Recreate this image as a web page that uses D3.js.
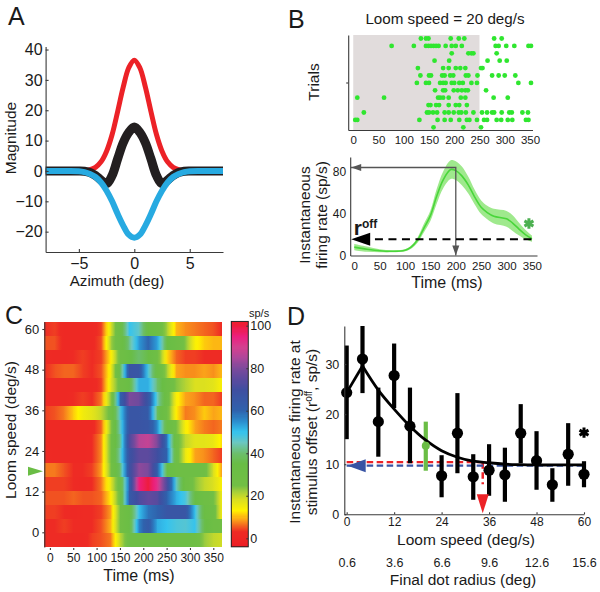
<!DOCTYPE html>
<html><head><meta charset="utf-8">
<script src="https://cdnjs.cloudflare.com/ajax/libs/d3/7.8.5/d3.min.js"></script>
<style>
html,body{margin:0;padding:0;background:#fff}
svg{display:block}
text{font-family:"Liberation Sans",Arial,sans-serif;fill:#1a1a1a}
.axis path,.axis line{stroke:#3a3a3a;stroke-width:1.1;fill:none}
</style></head><body>
<svg id="c" width="600" height="592"></svg>
<script>
// ---------- Panel A ----------
const azimuth   = [-8,-6,-5,-4.5,-4,-3.5,-3,-2.5,-2,-1.5,-1,-0.5,0,0.5,1,1.5,2,2.5,3,3.5,4,4.5,5,6,8];
const redCurve  = [0,0,0,0.1,0.4,1.2,3,6.5,12,19.6,27.6,34,36.5,34,27.6,19.6,12,6.5,3,1.2,0.4,0.1,0,0,0];
const blueCurve = [0,0,-0.1,-0.4,-1,-2,-3.8,-6.5,-10,-14.2,-18,-21,-22,-21,-18,-14.2,-10,-6.5,-3.8,-2,-1,-0.4,-0.1,0,0];
const blackCurve= [0,0,0,-0.1,-0.5,-1.5,-3,-4.2,-1.5,4,9.3,12.7,14.5,12.7,9.3,4,-1.5,-4.2,-3,-1.5,-0.5,-0.1,0,0,0];
const azTicks = [-5,0,5], magTicks = [-20,-10,0,10,20,30,40];

// ---------- Panel B raster ----------
const rasterTrials = [
 [134,144,149,193,209,220,279,294],
 [76,120,144,149,154,159,164,169,183,195,203,215,282,288,303,319,347,352],
 [195,228,234,238,284],
 [161,190,266,290,304],
 [128,178,189,203,212,222,253,256],
 [133,150,154,176,181,192,198,223,228,246,275,288,300,321],
 [126,144,150,172,178,183,195,200,210,217,234,245,327,352],
 [162,178,182,199,207,215,222,227,263],
 [8,61,168,172,178,189,213,222,278,306],
 [149,153,164,170,189,203,210,225],
 [21,146,150,158,166,181,189,199,209,214,223,238,255,265,275,279,294,309,314,335,346],
 [4,8,131,167,181,193,210,225,230,245,259,265,284,293,306,315,342,347],
 [159,218,253]
];
const timeTicks = [0,50,100,150,200,250,300,350];
const stimulusEnd = 250;

// ---------- Panel B rate ----------
const rateTime = [0,25,50,75,100,112,125,137,150,162,175,190,200,212,225,237,250,262,275,300,312,325,337,350];
const rateMean = [8,6,4.5,4,5,8,15,26,38,56,72,82,81,76,67,56,46,41,37.5,35,31,25,20,16];
const rateErr  = [3,2.5,1.5,1,1,1.5,2.5,4,5,7,8,9,9,9,8,7,6.5,6.5,7,7.5,7.5,6,4.5,3];
const rateTicks = [0,40,80];
const roffValue = 15.6, peakRate = 84, peakTime = 200;

// ---------- Panel C heat map ----------
const heatTimes = [-12,10,30,50,70,90,110,130,150,170,190,210,230,250,270,290,310,330,350,368];
const heatSpeeds = [60,56,52,48,44,40,36,32,28,24,20,16,12,8,4,0];
const heatRows = [
 [3,4,2,2,2,2,4,18,32,50,46,33,30,22,10,8,7,6,5,3],
 [5,5,2,2,2,2,5,22,30,42,54,60,53,35,30,24,14,11,10,10],
 [3,2,2,3,4,3,4,13,28,34,40,35,28,12,6,4,4,3,3,3],
 [3,5,6,6,4,3,5,15,36,67,66,48,32,22,9,8,8,9,8,10],
 [2,2,2,2,2,2,4,17,28,34,52,52,40,30,24,21,18,18,17,14],
 [2,2,2,3,4,3,7,24,60,80,78,66,45,30,14,9,8,6,6,4],
 [4,5,7,11,15,17,20,27,48,66,66,64,38,28,13,7,8,11,9,10],
 [2,2,2,2,2,2,6,24,46,67,67,66,55,32,26,14,9,7,6,7],
 [2,2,2,2,2,3,8,27,42,72,86,88,80,58,28,20,17,17,16,12],
 [3,2,2,2,2,3,8,27,45,68,75,75,70,60,30,16,9,8,6,4],
 [7,7,5,3,3,4,9,25,40,68,82,80,62,35,30,30,30,28,18,9],
 [4,4,4,3,2,3,7,17,30,62,95,100,92,72,46,30,24,20,18,14],
 [5,5,5,6,5,5,6,13,28,64,72,76,74,60,52,48,35,30,26,16],
 [4,4,3,2,3,3,4,9,26,33,50,58,60,66,66,66,50,33,28,16],
 [3,3,4,3,3,3,5,10,26,33,56,64,52,50,48,47,50,36,30,28],
 [3,3,3,2,2,4,5,7,20,29,30,30,30,30,30,30,28,23,20,19]
];
const speedTicksC = [0,12,24,36,48,60];
const heatTimeTicks = [0,50,100,150,200,250,300,350];
const cbTicks = [0,20,40,60,80,100];
const cmapValues = [-4,3,6,9,13,18,22,25,35,40,45,50,55,60,70,75,80,85,90,95,100,102];
const cmapColors = ["#ed1c24","#ee2b24","#f3651f","#fba319","#fff200","#dce01f","#a6cf3a","#72bf45","#69bd45","#6cbe6b","#6cc7c0","#35c3ee","#2b8fcf","#2f62ad","#3f4ea0","#5d4a9e","#7b4a9c","#ae479a","#d4408f","#ec1f7f","#ed1c3c","#ee1f2c"];
const markedSpeed = 18;

// ---------- Panel D ----------
const speeds  = [0,4,8,12,16,20,24,28,32,36,40,44,48,52,56,60];
const offRate = [24.3,31,18.5,27.7,17.6,13.7,7.7,16.2,7.5,8.8,7.9,16.2,10.7,5.9,12,8];
const offHi   = [33.7,37.6,25.3,34.1,25.3,18.5,11.8,24.2,12,14,13.3,22,16.6,9.2,18.2,10.6];
const offLo   = [15,24.2,11.5,21.2,10.2,8.7,3.4,8.2,2.9,3.7,2.5,10.2,4.9,2.5,5.7,5.4];
const riseSpeed = [0,4], riseRate = [24.3,29.6];
const fitSpeed = [4,8,12,16,20,24,28,32,36,40,44,48,52,56,60];
const fitRate  = [29.6,24.8,21,17.6,14.8,12.7,11.4,10.6,10.3,10,9.9,9.85,9.85,9.85,9.85];
const speedTicksD = [0,12,24,36,48,60];
const radiusLabels = ["0.6","3.6","6.6","9.6","12.6","15.6"];
const rateTicksD = [0,10,20,30];
const redLevel = 10.4, blueLevel = 9.7, redSpeed = 34.4, greenIndex = 5;

const RED="#ec2227", BLUE="#27aae1", GREEN="#6abd45", LIME="#2fe62f";
const svg = d3.select("#c");
const label=(x,y,s,size,opts={})=>{
  const t=svg.append("text").attr("x",x).attr("y",y).attr("font-size",size).text(s);
  if(opts.anchor) t.attr("text-anchor",opts.anchor);
  if(opts.rot) t.attr("transform",`rotate(-90 ${x} ${y})`);
  return t;
};
const tri=(g,pts,fill)=>g.append("path").attr("d",d3.line()(pts)+"Z").attr("fill",fill);
const styleAxis=(g,fs)=>{g.attr("class","axis");g.selectAll("text").attr("font-size",fs).attr("fill","#1a1a1a").style("font-family",'"Liberation Sans",Arial,sans-serif');return g;};

// ---- A ----
label(8,25,"A",25);
{
  const x=d3.scaleLinear().domain([-8,8]).range([45.6,223]);
  const y=d3.scaleLinear().domain([-26.7,41]).range([252,46.5]);
  const g=svg.append("g");
  const ln=a=>d3.line().x((d,i)=>x(azimuth[i])).y(d=>y(d)).curve(d3.curveCatmullRom.alpha(0.5))(a);
  g.append("path").attr("d",ln(redCurve)).attr("fill","none").attr("stroke",RED).attr("stroke-width",5);
  g.append("path").attr("d",ln(blackCurve)).attr("fill","none").attr("stroke","#231f20").attr("stroke-width",9);
  g.append("path").attr("d",ln(blueCurve)).attr("fill","none").attr("stroke",BLUE).attr("stroke-width",6);
  styleAxis(svg.append("g").attr("transform","translate(0,252)").call(d3.axisBottom(x).tickValues(azTicks).tickSize(-3).tickSizeOuter(0).tickPadding(6).tickFormat(d3.format("d"))),16);
  styleAxis(svg.append("g").attr("transform","translate(45.6,0)").call(d3.axisLeft(y).tickValues(magTicks).tickSize(-3).tickSizeOuter(0).tickPadding(3).tickFormat(d3.format("d"))),16);
  label(117,286,"Azimuth (deg)",15.2,{anchor:"middle"});
  label(16,138,"Magnitude",15.5,{anchor:"middle",rot:true});
}

// ---- B raster ----
label(288,28,"B",25);
label(445,24,"Loom speed = 20 deg/s",15.2,{anchor:"middle"});
{
  const x=d3.scaleLinear().domain([-10,355]).range([348.2,532.5]);
  const rows=d3.scalePoint().domain(d3.range(rasterTrials.length)).range([38.5,127.3]);
  svg.append("rect").attr("x",x(0)).attr("y",35).attr("width",x(stimulusEnd)-x(0)).attr("height",95).attr("fill","#e1dcdc");
  rasterTrials.forEach((tr,i)=>{
    svg.append("g").selectAll("circle").data(tr).join("circle")
      .attr("cx",d=>x(d)).attr("cy",rows(i)).attr("r",2.4).attr("fill",LIME);
  });
  styleAxis(svg.append("g").attr("transform","translate(0,130)").call(d3.axisBottom(x).tickValues(timeTicks).tickSize(0).tickSizeOuter(0).tickPadding(6)),11.5);
  const yy=d3.scaleLinear().domain([0,1]).range([130,35]);
  styleAxis(svg.append("g").attr("transform","translate(348.2,0)").call(d3.axisLeft(yy).tickValues([0.5]).tickSize(2).tickSizeOuter(0).tickFormat("")),11);
  label(319,82,"Trials",15.5,{anchor:"middle",rot:true});
}

// ---- B rate ----
{
  const x=d3.scaleLinear().domain([-8,360]).range([350.2,537]);
  const y=d3.scaleLinear().domain([0,94]).range([255.5,157]);
  const sm=d3.curveCatmullRom.alpha(0.5);
  svg.append("path").attr("d",d3.area().x((d,i)=>x(rateTime[i])).y0((d,i)=>y(Math.max(0.3,d-rateErr[i]))).y1((d,i)=>y(d+rateErr[i])).curve(sm)(rateMean)).attr("fill","#9fe98d");
  svg.append("path").attr("d",d3.line().x((d,i)=>x(rateTime[i])).y(d=>y(d)).curve(sm)(rateMean)).attr("fill","none").attr("stroke","#49d63a").attr("stroke-width",1.6);
  styleAxis(svg.append("g").attr("transform","translate(0,255.5)").call(d3.axisBottom(x).tickValues(timeTicks).tickSize(0).tickSizeOuter(0).tickPadding(6)),11.5);
  styleAxis(svg.append("g").attr("transform","translate(350.2,0)").call(d3.axisLeft(y).tickValues(rateTicks).tickSize(0).tickSizeOuter(0).tickPadding(4)),12);
  const px=x(peakTime), py=y(peakRate);
  svg.append("path").attr("d",d3.line()([[x.range()[0],py],[px,py],[px,y(0)]])).attr("fill","none").attr("stroke","#555").attr("stroke-width",1.3);
  tri(svg,[[x.range()[0]+1,py],[x.range()[0]+11,py-3.5],[x.range()[0]+11,py+3.5]],"#555");
  tri(svg,[[px,y(0)],[px-3.5,y(0)-10],[px+3.5,y(0)-10]],"#555");
  svg.append("line").attr("x1",x(25)+8).attr("x2",x(350)).attr("y1",y(roffValue)).attr("y2",y(roffValue)).attr("stroke","#000").attr("stroke-width",2).attr("stroke-dasharray","8 5.5");
  tri(svg,[[x.range()[0]+1,y(roffValue)],[x.range()[0]+20,y(roffValue)-6.5],[x.range()[0]+20,y(roffValue)+6.5]],"#000");
  const t=svg.append("text").attr("x",x(0)-0.5).attr("y",235).attr("font-weight","bold").attr("font-size",21).text("r");
  t.append("tspan").attr("dy",-7).attr("font-size",12).text("off");
  svg.append("path").attr("d",d3.symbol(d3.symbolAsterisk,75)()).attr("transform",`translate(${x(350)-3},223.5)`).attr("fill","none").attr("stroke","#4cb050").attr("stroke-width",3);
  label(447,288,"Time (ms)",16,{anchor:"middle"});
  label(310,215,"Instantaneous",15.5,{anchor:"middle",rot:true});
  label(327,215,"firing rate (sp/s)",15.5,{anchor:"middle",rot:true});
}

// ---- C ----
label(5,324,"C",25);
{
  const color=d3.scaleLinear().domain(cmapValues).range(cmapColors).clamp(true);
  const x=d3.scaleLinear().domain([-12,368]).range([44.3,221.7]);
  const rowY=d3.scaleBand().domain(heatSpeeds).range([321.7,547]);
  const defs=svg.append("defs");
  const cells=[];
  heatRows.forEach((row,r)=>{
    for(let i=0;i<row.length-1;i++) cells.push({r,i,a:row[i],b:row[i+1],speed:heatSpeeds[r]});
  });
  const grads=defs.selectAll("linearGradient").data(cells).join("linearGradient").attr("id",d=>`h${d.r}_${d.i}`);
  grads.selectAll("stop").data(d=>[0,.25,.5,.75,1].map(f=>({f,v:d.a+(d.b-d.a)*f}))).join("stop")
    .attr("offset",d=>d.f).attr("stop-color",d=>color(d.v));
  svg.append("g").attr("shape-rendering","crispEdges").selectAll("rect").data(cells).join("rect")
    .attr("x",d=>x(heatTimes[d.i])).attr("y",d=>rowY(d.speed))
    .attr("width",d=>x(heatTimes[d.i+1])-x(heatTimes[d.i])+(d.i<18?0.6:0)).attr("height",d=>rowY.bandwidth()+(d.r<15?0.5:0))
    .attr("fill",d=>`url(#h${d.r}_${d.i})`);
  const yt=d3.scaleLinear().domain([0,60]).range([532.3,329]);
  styleAxis(svg.append("g").attr("transform","translate(0,548)").call(d3.axisBottom(x).tickValues(heatTimeTicks).tickSize(2).tickSizeOuter(0).tickPadding(3.5)),12).select("path").remove();
  styleAxis(svg.append("g").attr("transform","translate(44.3,0)").call(d3.axisLeft(d3.scaleLinear().domain([yt.invert(547),yt.invert(321.7)]).range([547,321.7])).tickValues(speedTicksC).tickSize(2).tickSizeOuter(0).tickPadding(3)),13);
  tri(svg,[[43,yt(markedSpeed)],[28,yt(markedSpeed)-4.5],[28,yt(markedSpeed)+4.5]],GREEN);
  label(16,430,"Loom speed (deg/s)",15.5,{anchor:"middle",rot:true});
  label(139,581,"Time (ms)",16,{anchor:"middle"});
  const cb=d3.scaleLinear().domain([0,100]).range([538.3,325.7]);
  const cbVals=d3.range(-3.9,101.9,0.5);
  svg.append("g").attr("shape-rendering","crispEdges").selectAll("rect").data(cbVals).join("rect")
    .attr("x",231.3).attr("width",17).attr("y",d=>cb(d)-0.6).attr("height",1.3).attr("fill",d=>color(d));
  svg.append("rect").attr("x",231.3).attr("y",cb(102)).attr("width",17).attr("height",cb(-4)-cb(102)).attr("fill","none").attr("stroke","#222").attr("stroke-width",1);
  styleAxis(svg.append("g").attr("transform","translate(248.3,0)").call(d3.axisRight(cb).tickValues(cbTicks).tickSize(-2).tickSizeOuter(0).tickPadding(2)),12.5).select("path").remove();
  label(249,317,"sp/s",11);
}

// ---- D ----
label(287,325,"D",25);
{
  const x=d3.scaleLinear().domain([-0.6,60]).range([344.3,584]);
  const y=d3.scaleLinear().domain([0,37.6]).range([514.3,326]);
  const isG=i=>i===greenIndex;
  svg.append("line").attr("x1",x(0)).attr("x2",x(redSpeed)).attr("y1",y(redLevel)).attr("y2",y(redLevel)).attr("stroke",RED).attr("stroke-width",2.2).attr("stroke-dasharray","6.5 3.5");
  svg.append("line").attr("x1",x(redSpeed)).attr("x2",x(redSpeed)).attr("y1",y(redLevel)).attr("y2",y(6)).attr("stroke",RED).attr("stroke-width",2.5).attr("stroke-dasharray","6.5 3.5");
  svg.append("line").attr("x1",x(0)).attr("x2",x(60)).attr("y1",y(blueLevel)).attr("y2",y(blueLevel)).attr("stroke","#3853a4").attr("stroke-width",2.2).attr("stroke-dasharray","6.5 3.5");
  svg.append("g").selectAll("line").data(speeds).join("line")
    .attr("x1",d=>x(d)).attr("x2",d=>x(d)).attr("y1",(d,i)=>y(offLo[i])).attr("y2",(d,i)=>y(offHi[i]))
    .attr("stroke",(d,i)=>isG(i)?GREEN:"#000").attr("stroke-width",4.2);
  svg.append("path").attr("d",d3.line().x((d,i)=>x(riseSpeed[i])).y(d=>y(d))(riseRate)).attr("fill","none").attr("stroke","#000").attr("stroke-width",2.8);
  svg.append("path").attr("d",d3.line().x((d,i)=>x(fitSpeed[i])).y(d=>y(d)).curve(d3.curveCatmullRom.alpha(0.5))(fitRate)).attr("fill","none").attr("stroke","#000").attr("stroke-width",2.8);
  svg.append("g").selectAll("circle").data(speeds).join("circle")
    .attr("cx",d=>x(d)).attr("cy",(d,i)=>y(offRate[i])).attr("r",(d,i)=>isG(i)?4:5.6)
    .attr("fill",(d,i)=>isG(i)?GREEN:"#000");
  tri(svg,[[x(0)+1,y(blueLevel)],[x(0)+19,y(blueLevel)-6.5],[x(0)+19,y(blueLevel)+6.5]],"#3853a4");
  tri(svg,[[x(redSpeed),y(0)-1],[x(redSpeed)-6,y(0)-20],[x(redSpeed)+6,y(0)-20]],RED);
  svg.append("path").attr("d",d3.symbol(d3.symbolAsterisk,75)()).attr("transform",`translate(${x(60)},${y(16.3)})`).attr("fill","none").attr("stroke","#000").attr("stroke-width",3);
  styleAxis(svg.append("g").attr("transform","translate(0,514.3)").call(d3.axisBottom(x).tickValues(speedTicksD).tickSize(-2).tickSizeOuter(0).tickPadding(3.5)),12);
  styleAxis(svg.append("g").attr("transform","translate(344.3,0)").call(d3.axisLeft(y).tickValues(rateTicksD).tickSize(-2).tickSizeOuter(0).tickPadding(5)),12.5);
  styleAxis(svg.append("g").attr("transform","translate(0,558)").call(d3.axisBottom(x).tickValues(speedTicksD).tickSize(0).tickPadding(0).tickFormat((d,i)=>radiusLabels[i])),12.5).select("path").remove();
  label(466,544.5,"Loom speed (deg/s)",15.5,{anchor:"middle"});
  label(463,585,"Final dot radius (deg)",15.5,{anchor:"middle"});
  label(300,432,"Instantaneous firing rate at",15.5,{anchor:"middle",rot:true});
  const t=label(317,432,"stimulus offset (r",15.5,{anchor:"middle",rot:true});
  t.append("tspan").attr("dy",-5).attr("font-size",10).text("off");
  t.append("tspan").attr("dy",5).text(", sp/s)");
}
</script>
</body></html>
